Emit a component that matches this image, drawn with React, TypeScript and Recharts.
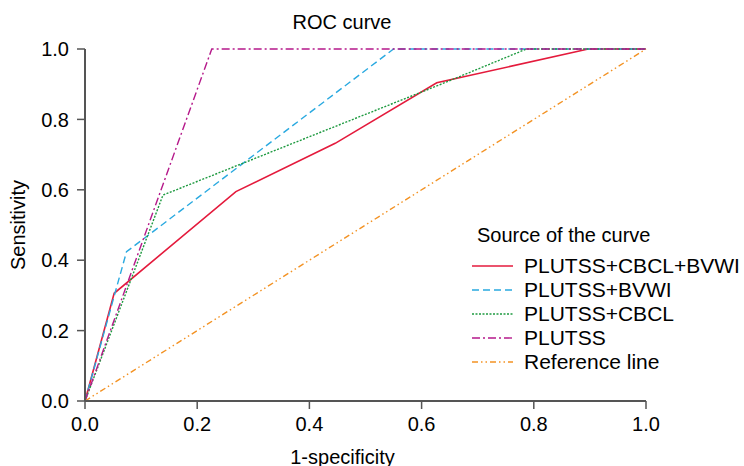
import { Line, LineChart, XAxis, YAxis } from 'recharts'

const xTicks = [0, 0.2, 0.4, 0.6, 0.8, 1]
const yTicks = [0, 0.2, 0.4, 0.6, 0.8, 1]

// 1-specificity / sensitivity pairs
const fprFull = [0, 0.052, 0.269, 0.446, 0.627, 0.897, 1]
const tprFull = [0, 0.306, 0.595, 0.732, 0.904, 1, 1]

const fprBvwi = [0, 0.074, 0.55, 1]
const tprBvwi = [0, 0.424, 1, 1]

const fprCbcl = [0, 0.139, 0.627, 0.787, 1]
const tprCbcl = [0, 0.585, 0.895, 1, 1]

const fprPlutss = [0, 0.226, 1]
const tprPlutss = [0, 1, 1]

const fprRef = [0, 1]
const tprRef = [0, 1]

const FONT = '"Liberation Sans", Arial, sans-serif'

const pts = (xs: number[], ys: number[]) => xs.map((x, i) => ({ x, y: ys[i] }))

const series = [
  { name: 'PLUTSS+CBCL+BVWI', data: pts(fprFull, tprFull), color: '#e41a3c', dash: undefined, width: 1.6 },
  { name: 'PLUTSS+BVWI', data: pts(fprBvwi, tprBvwi), color: '#29a9e0', dash: '7 4', width: 1.4 },
  { name: 'PLUTSS+CBCL', data: pts(fprCbcl, tprCbcl), color: '#1e9a40', dash: '2 1.5', width: 1.4 },
  { name: 'PLUTSS', data: pts(fprPlutss, tprPlutss), color: '#b5198a', dash: '8 3 2 3', width: 1.4 },
  { name: 'Reference line', data: pts(fprRef, tprRef), color: '#f39223', dash: '6 3 1.5 3 1.5 3', width: 1.4 },
]

function CurveLegend() {
  return (
    <svg width={280} height={160} style={{ fontFamily: FONT, display: 'block' }}>
      <text x={11} y={22} fontSize={20} fill="#000">Source of the curve</text>
      {series.map((s, i) => (
        <g key={s.name}>
          <line x1={6} x2={47} y1={46 + 24 * i} y2={46 + 24 * i} stroke={s.color} strokeWidth={s.width} strokeDasharray={s.dash} />
          <text x={58} y={53 + 24 * i} fontSize={21} fill="#000">{s.name}</text>
        </g>
      ))}
    </svg>
  )
}

export default function App() {
  return (
    <div style={{ position: 'absolute', left: 0, top: 0, width: 744, height: 466, fontFamily: FONT, background: '#fff' }}>
      <div style={{ position: 'absolute', left: 242, top: 12, width: 200, textAlign: 'center', fontSize: 20, lineHeight: '20px' }}>
        ROC curve
      </div>
      <LineChart width={744} height={466} margin={{ top: 49, right: 98, bottom: 0, left: 0 }}>
        <XAxis
          type="number"
          dataKey="x"
          domain={[0, 1]}
          ticks={xTicks}
          tickFormatter={(v: number) => v.toFixed(1)}
          height={65}
          tickSize={8}
          tickMargin={8}
          axisLine={{ stroke: '#555', strokeWidth: 2 }}
          tickLine={{ stroke: '#555', strokeWidth: 1.5 }}
          tick={{ fontSize: 20, fill: '#000', fontFamily: FONT }}
          label={{ value: '1-specificity', position: 'insideBottom', offset: 2, dx: -23, fontSize: 20, fill: '#000', fontFamily: FONT }}
        />
        <YAxis
          type="number"
          domain={[0, 1]}
          ticks={yTicks}
          tickFormatter={(v: number) => v.toFixed(1)}
          width={85}
          tickSize={8}
          tickMargin={8}
          axisLine={{ stroke: '#555', strokeWidth: 2 }}
          tickLine={{ stroke: '#555', strokeWidth: 1.5 }}
          tick={{ fontSize: 20, fill: '#000', fontFamily: FONT }}
          label={{ value: 'Sensitivity', angle: -90, position: 'insideLeft', offset: 18, fontSize: 20, fill: '#000', fontFamily: FONT, style: { textAnchor: 'middle' } }}
        />
        {series.map((s) => (
          <Line
            key={s.name}
            data={s.data}
            dataKey="y"
            name={s.name}
            type="linear"
            stroke={s.color}
            strokeWidth={s.width}
            strokeDasharray={s.dash}
            dot={false}
            activeDot={false}
            isAnimationActive={false}
          />
        ))}
      </LineChart>
      <div style={{ position: 'absolute', left: 466, top: 220 }}>
        <CurveLegend />
      </div>
    </div>
  )
}
